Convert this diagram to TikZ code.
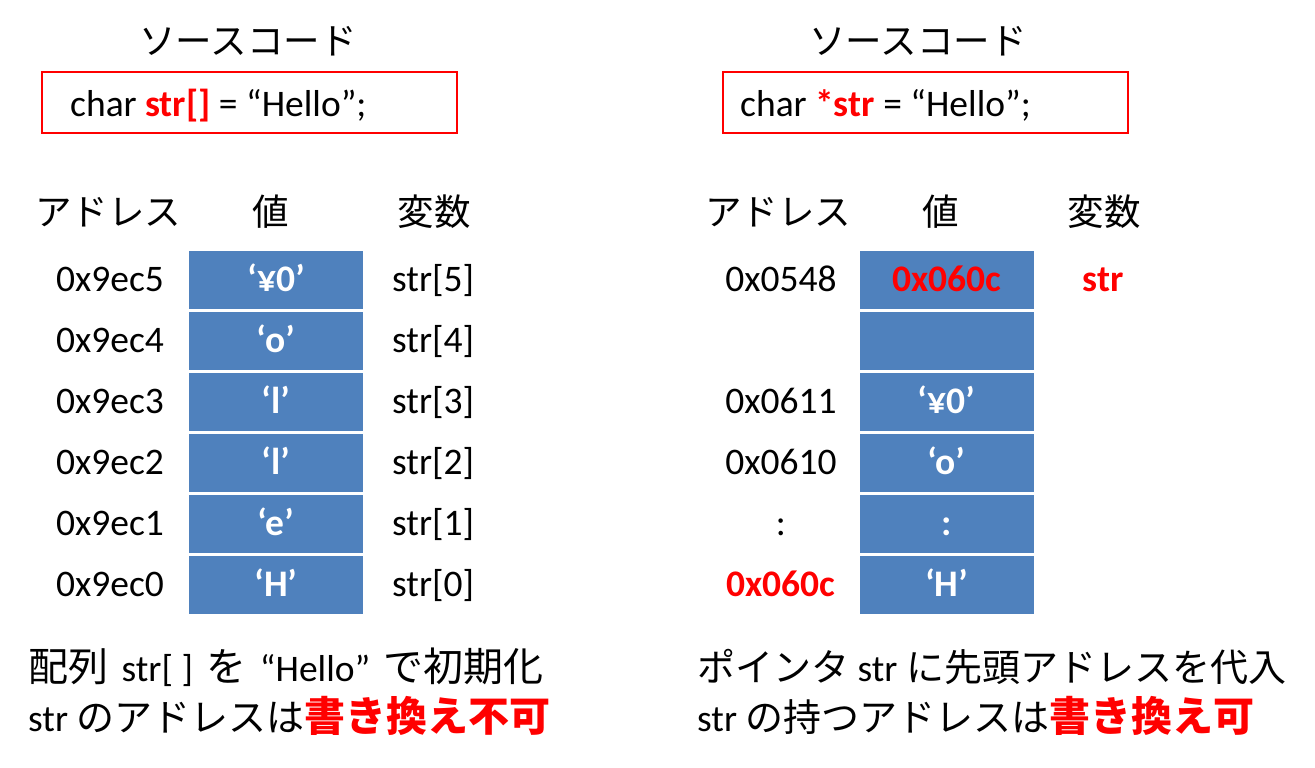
\documentclass[tikz,border=0pt]{standalone}
\usepackage{fontspec}
\setmainfont{Carlito}
\newfontfamily\jp{Noto Sans CJK JP}
\newcommand{\J}[1]{{\jp\fontsize{38}{42}\selectfont #1}}
\newcommand{\JL}[1]{{\jp\fontsize{40}{42}\selectfont #1}}
\newcommand{\JR}[1]{{\jp\bfseries\fontsize{41}{42}\selectfont\textcolor{hred}{#1}}}
\newcommand{\gp}{\hspace{5pt}}
\definecolor{cellblue}{HTML}{4F81BD}
\definecolor{hred}{HTML}{FF0000}
\begin{document}
\begin{tikzpicture}[x=1pt,y=-1pt,
  txt/.style={font=\fontsize{37.5}{42}\selectfont, inner sep=0pt, anchor=base},
  lft/.style={txt, anchor=base west},
  head/.style={font=\jp\fontsize{36.5}{40}\selectfont, inner sep=0pt, anchor=base},
  bottom/.style={font=\fontsize{37.5}{42}\selectfont, inner sep=0pt, anchor=base west},
  codebox/.style={draw=hred, line width=2pt, minimum height=61pt, inner sep=0pt},
  cell/.style={draw=white, line width=3pt, fill=cellblue, minimum width=177pt,
    minimum height=61pt, inner sep=0pt, text height=23pt, text depth=0pt,
    text=white, font=\fontsize{37.5}{42}\selectfont\bfseries},
  redb/.style={text=hred, font=\fontsize{37.5}{42}\selectfont\bfseries}]
\useasboundingbox (0,0) rectangle (1315,768);

% ---------- left ----------
\node[head] (ltitle) at (248,55) {ソースコード};
\node[codebox, minimum width=415pt] (lbox) at (249.5,102.5) {};
\node[lft] (lcode) at (70,117) {char \textcolor{hred}{\bfseries str[]} = “Hello”;};

\node[head] (lha) at (108,225) {アドレス};
\node[head] (lhv) at (271,225) {値};
\node[head] (lhn) at (434,225) {変数};

\foreach \i/\a/\v/\n in {0/0x9ec5/‘¥0’/str[5], 1/0x9ec4/‘o’/str[4], 2/0x9ec3/‘l’/str[3],
                         3/0x9ec2/‘l’/str[2], 4/0x9ec1/‘e’/str[1], 5/0x9ec0/‘H’/str[0]} {
  \node[cell] (lc\i) at (276,279.5+61*\i) {\v};
  \node[txt] (la\i) at (110,291+61*\i) {\a};
  \node[lft] (ln\i) at (392,291+61*\i) {\n};
}

\node[bottom] (lb1) at (28,681) {\JL{配列} \gp str[ ] \gp\JL{を} \gp “Hello” \gp\JL{で初期化}};
\node[bottom] (lb2) at (28,731) {str \J{のアドレスは}\JR{書き換え不可}};

% ---------- right ----------
\node[head] (rtitle) at (918,55) {ソースコード};
\node[codebox, minimum width=405pt] (rbox) at (925.5,102.5) {};
\node[lft] (rcode) at (740,117) {char \textcolor{hred}{\bfseries *str} = “Hello”;};

\node[head] (rha) at (778,225) {アドレス};
\node[head] (rhv) at (941,225) {値};
\node[head] (rhn) at (1104,225) {変数};

\node[cell, text=hred] (rc0) at (946.5,279.5) {0x060c};
\node[cell] (rc1) at (946.5,340.5) {};
\node[cell] (rc2) at (946.5,401.5) {‘¥0’};
\node[cell] (rc3) at (946.5,462.5) {‘o’};
\node[cell] (rc4) at (946.5,523.5) {:};
\node[cell] (rc5) at (946.5,584.5) {‘H’};

\node[txt] (ra0) at (781,291) {0x0548};
\node[txt] (ra2) at (781,413) {0x0611};
\node[txt] (ra3) at (781,474) {0x0610};
\node[txt] (ra4) at (781,535) {:};
\node[txt, redb] (ra5) at (781,596) {0x060c};
\node[txt, redb] (rn0) at (1103,291) {str};

\node[bottom] (rb1) at (697,681) {\J{ポインタ} str \J{に先頭アドレスを代入}};
\node[bottom] (rb2) at (697,731) {str \J{の持つアドレスは}\JR{書き換え可}};
\end{tikzpicture}
\end{document}
